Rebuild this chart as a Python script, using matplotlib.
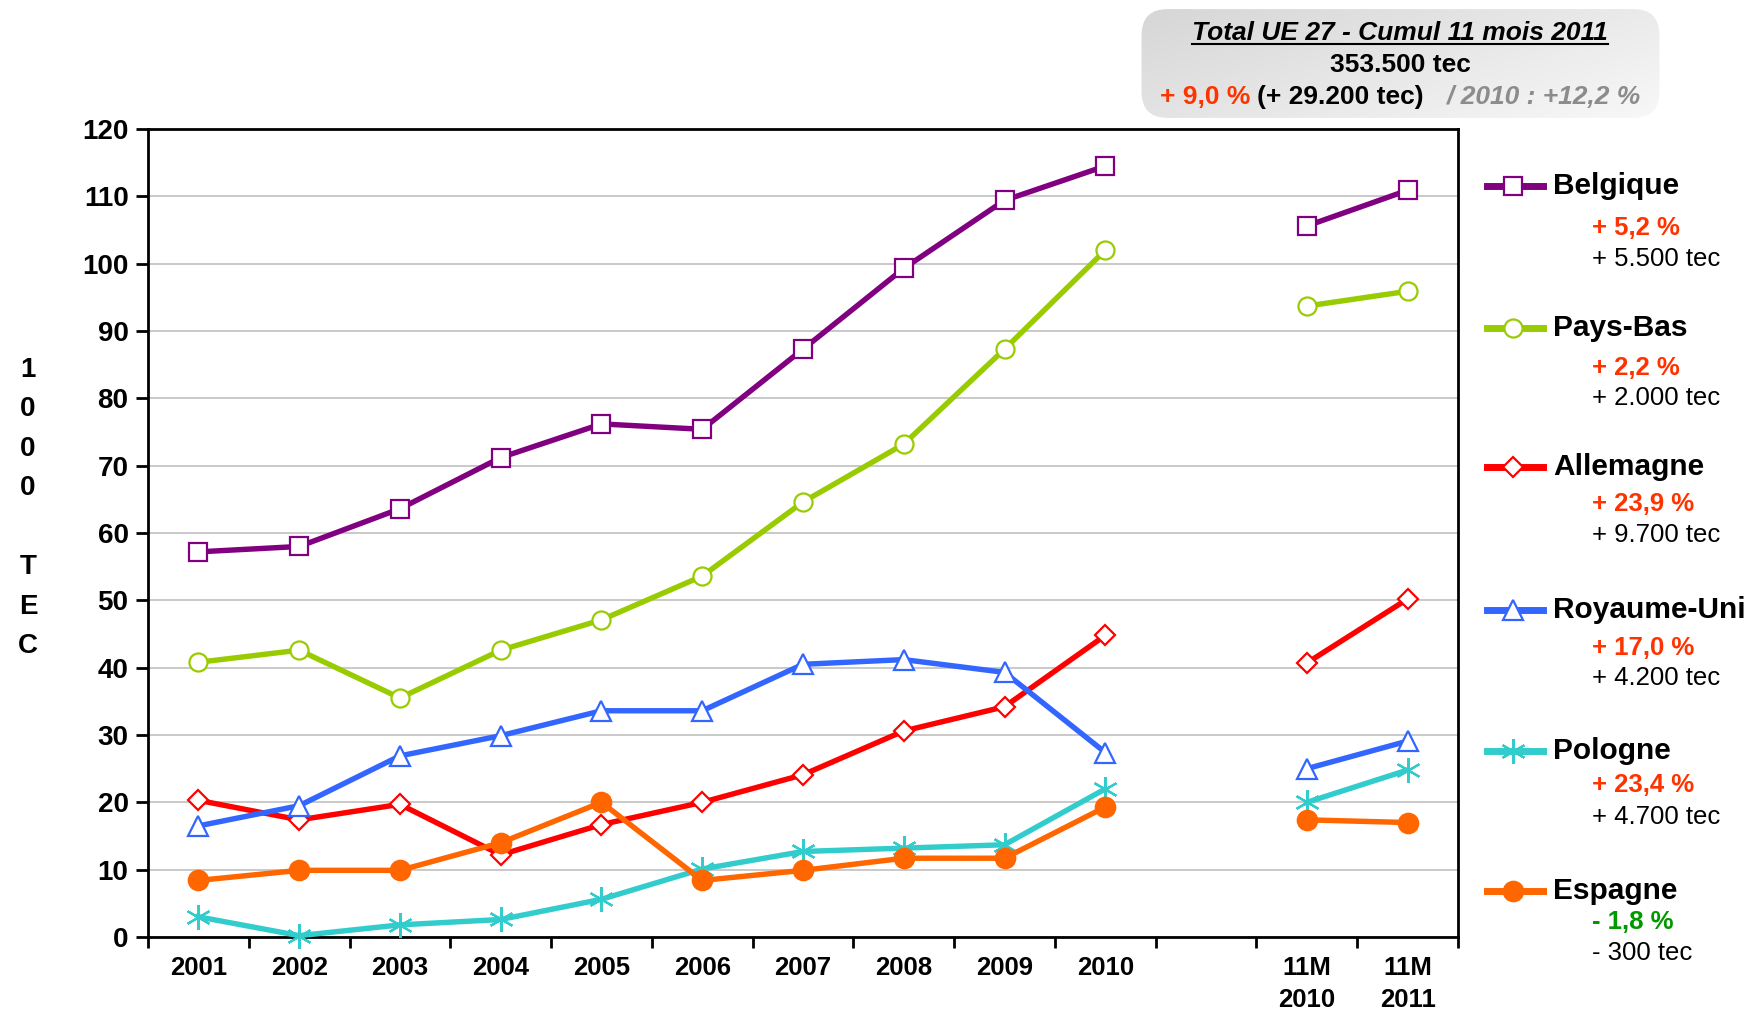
import numpy as np
import matplotlib
matplotlib.use("Agg")
import matplotlib.pyplot as plt
from matplotlib.lines import Line2D
from matplotlib.patches import FancyBboxPatch

plt.rcParams['font.family'] = ['Liberation Sans', 'DejaVu Sans']

nan = np.nan
# categories (slot 10 is the empty gap between years and 11-month totals)
labels = ['2001', '2002', '2003', '2004', '2005', '2006', '2007', '2008', '2009', '2010',
          '', '11M\n2010', '11M\n2011']

# values in 1000 tec
belgique = [57.2, 58.0, 63.6, 71.2, 76.2, 75.4, 87.3, 99.3, 109.4, 114.5, nan, 105.6, 110.9]
pays_bas = [40.8, 42.6, 35.5, 42.6, 47.1, 53.6, 64.6, 73.2, 87.3, 102.0, nan, 93.7, 95.9]
allemagne = [20.3, 17.4, 19.7, 12.2, 16.7, 20.0, 24.1, 30.6, 34.2, 44.8, nan, 40.7, 50.2]
royaume_uni = [16.5, 19.5, 26.9, 29.9, 33.6, 33.6, 40.5, 41.2, 39.3, 27.4, nan, 25.0, 29.1]
pologne = [3.0, 0.2, 1.8, 2.6, 5.6, 10.1, 12.7, 13.2, 13.7, 22.0, nan, 20.0, 24.8]
espagne = [8.4, 9.9, 9.9, 14.0, 20.0, 8.4, 9.9, 11.7, 11.7, 19.3, nan, 17.4, 17.0]

names = ['Belgique', 'Pays-Bas', 'Allemagne', 'Royaume-Uni', 'Pologne', 'Espagne']
pct = ['+ 5,2 %', '+ 2,2 %', '+ 23,9 %', '+ 17,0 %', '+ 23,4 %', '- 1,8 %']
tec = ['+ 5.500 tec', '+ 2.000 tec', '+ 9.700 tec', '+ 4.200 tec', '+ 4.700 tec', '- 300 tec']

series = [belgique, pays_bas, allemagne, royaume_uni, pologne, espagne]
colors = ['#800080', '#99cc00', '#ff0000', '#3366ff', '#33cccc', '#ff6600']
markers = ['s', 'o', 'D', '^', (6, 2, 0), 'o']
msizes = [13, 13, 10, 15, 18, 14]
filled = [False, False, False, False, True, True]
pct_colors = ['#ff3300'] * 5 + ['#009900']

W, H = 1745, 1014
fig = plt.figure(figsize=(W / 100, H / 100), dpi=100)
ax = fig.add_axes([148 / W, 1 - 937 / H, (1458 - 148) / W, (937 - 129) / H])

x = np.arange(len(labels))
for vals, c, m, ms, f in zip(series, colors, markers, msizes, filled):
    ax.plot(x, vals, color=c, lw=3.9, marker=m, markersize=ms,
            markerfacecolor=c if f else 'white', markeredgecolor=c,
            markeredgewidth=1.6, zorder=3, clip_on=False)

ax.set_xlim(-0.5, len(labels) - 0.5)
ax.set_ylim(0, 120)
ax.set_yticks(np.arange(0, 121, 10))
ax.yaxis.grid(True, color='#c0c0c0', lw=1.2)
ax.set_axisbelow(True)
ax.tick_params(axis='y', labelsize=20, width=2, length=9, direction='out', pad=5)
for lab in ax.get_yticklabels():
    lab.set_fontweight('bold')

# category boundaries as major ticks, labels on minor ticks
ax.set_xticks(np.arange(-0.5, len(labels), 1.0))
ax.set_xticklabels([])
ax.tick_params(axis='x', which='major', width=2, length=8, direction='out')
ax.set_xticks(x, minor=True)
ax.set_xticklabels(labels, minor=True, fontsize=18.5, fontweight='bold', linespacing=1.4)
ax.tick_params(axis='x', which='minor', length=0, pad=14)
for s in ax.spines.values():
    s.set_linewidth(2)

# vertical unit label
fig.text(28 / W, 1 - 508 / H, '1\n0\n0\n0\n\nT\nE\nC', ha='center', va='center',
         fontsize=20, fontweight='bold', linespacing=1.67)

# legend drawn by hand
leg_y = [186, 328, 467, 610, 751, 891]
pct_off = [42, 40, 37, 38, 34, 31]
tec_off = [73, 70, 68, 68, 66, 62]
for i, yy in enumerate(leg_y):
    fy = 1 - yy / H
    c = colors[i]
    fig.add_artist(Line2D([1487 / W, 1513 / W, 1543 / W], [fy, fy, fy], color=c, lw=5,
                          marker=markers[i], markevery=[1], markersize=msizes[i],
                          markerfacecolor=c if filled[i] else 'white', markeredgecolor=c,
                          markeredgewidth=1.6, transform=fig.transFigure))
    fig.text(1553 / W, fy, names[i], fontsize=21.5, fontweight='bold', va='center', ha='left')
    fig.text(1592 / W, 1 - (yy + pct_off[i]) / H, pct[i], fontsize=18.5, fontweight='bold',
             color=pct_colors[i], va='center', ha='left')
    fig.text(1592 / W, 1 - (yy + tec_off[i]) / H, tec[i], fontsize=18.5,
             va='center', ha='left')

# summary box with gradient
bx = fig.add_axes([1140 / W, 1 - 119 / H, (1661 - 1140) / W, (119 - 8) / H])
bx.set_axis_off()
gx, gy = np.meshgrid(np.linspace(0, 1, 200), np.linspace(0, 1, 60))
grad = 0.6 * gx + 0.4 * gy
img = bx.imshow(grad, cmap=matplotlib.colors.LinearSegmentedColormap.from_list(
    'g', ['#d6d6d6', '#f8f8f8']), extent=[0, 1, 0, 1], aspect='auto', origin='upper')
patch = FancyBboxPatch((0.003, 0.01), 0.994, 0.98, boxstyle='round,pad=0,rounding_size=0.05',
                       transform=bx.transAxes, facecolor='none', edgecolor='none',
                       mutation_aspect=4.7)
bx.add_patch(patch)
img.set_clip_path(patch)
bx.set_xlim(0, 1)
bx.set_ylim(0, 1)

t1 = fig.text(1400 / W, 1 - 33 / H, 'Total UE 27 - Cumul 11 mois 2011', fontsize=19,
              fontweight='bold', fontstyle='italic', ha='center', va='center')
fig.text(1400 / W, 1 - 65 / H, '353.500 tec', fontsize=19, fontweight='bold',
         ha='center', va='center')
fig.text(1160 / W, 1 - 97 / H, '+ 9,0 %', fontsize=19, fontweight='bold',
         color='#ff3300', ha='left', va='center')
fig.text(1257 / W, 1 - 97 / H, '(+ 29.200 tec)', fontsize=19, fontweight='bold',
         ha='left', va='center')
fig.text(1447 / W, 1 - 97 / H, '/ 2010 : +12,2 %', fontsize=19, fontweight='bold',
         fontstyle='italic', color='#8c8c8c', ha='left', va='center')

# underline for the box title
fig.canvas.draw()
bb = t1.get_window_extent().transformed(fig.transFigure.inverted())
fig.add_artist(Line2D([bb.x0, bb.x1], [bb.y0 + 0.001, bb.y0 + 0.001], color='black',
                      lw=1.5, transform=fig.transFigure))

fig.savefig('out.png', dpi=100)
